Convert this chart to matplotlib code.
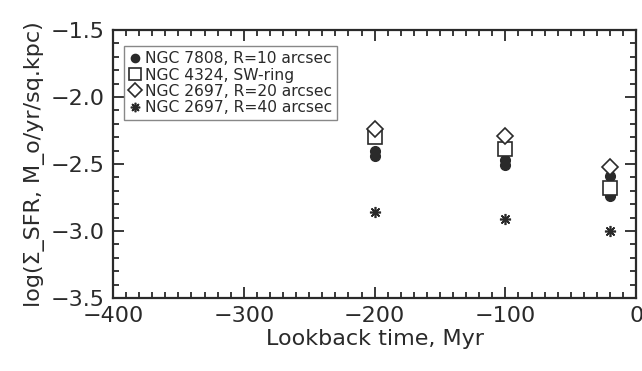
import numpy as np
import matplotlib
matplotlib.use("Agg")
import matplotlib.pyplot as plt
from matplotlib.ticker import MultipleLocator

# Lookback times (Myr) and log surface SFR for each sample
t_7808 = [-200, -200, -100, -100, -20, -20]
sfr_7808 = [-2.40, -2.44, -2.47, -2.51, -2.59, -2.74]

t_4324 = [-200, -100, -20]
sfr_4324 = [-2.30, -2.39, -2.68]

t_2697_r20 = [-200, -100, -20]
sfr_2697_r20 = [-2.24, -2.29, -2.52]

t_2697_r40 = [-200, -100, -20]
sfr_2697_r40 = [-2.86, -2.91, -3.00]

labels = ["NGC 7808, R=10 arcsec", "NGC 4324, SW-ring",
          "NGC 2697, R=20 arcsec", "NGC 2697, R=40 arcsec"]

ink = "#2a2a2a"
plt.rcParams["font.family"] = ["DejaVu Sans"]
plt.rcParams["axes.unicode_minus"] = True

fig = plt.figure(figsize=(6.42, 3.71), dpi=100)
ax = fig.add_axes([0.176, 0.197, 0.815, 0.722])

ax.plot(t_7808, sfr_7808, "o", ms=7, color=ink, mec=ink, label=labels[0])
ax.plot(t_4324, sfr_4324, "s", ms=10, mfc="white", mec=ink, mew=1.2, label=labels[1])
ax.plot(t_2697_r20, sfr_2697_r20, "D", ms=8, mfc="white", mec=ink, mew=1.2, label=labels[2])
ax.plot(t_2697_r40, sfr_2697_r40, ls="none", marker=(8, 2, 0), ms=8, color=ink, mew=1.2, label=labels[3])

ax.set_xlim(-400, 0)
ax.set_ylim(-3.5, -1.5)
ax.xaxis.set_major_locator(MultipleLocator(100))
ax.xaxis.set_minor_locator(MultipleLocator(10))
ax.yaxis.set_major_locator(MultipleLocator(0.5))
ax.yaxis.set_minor_locator(MultipleLocator(0.1))

ax.tick_params(which="both", direction="in", top=True, right=True, color=ink,
               labelcolor=ink, labelsize=16, width=1.3)
ax.tick_params(which="major", length=8, pad=6)
ax.tick_params(which="minor", length=4)
for s in ax.spines.values():
    s.set_linewidth(1.6)
    s.set_color(ink)

ax.set_xlabel("Lookback time, Myr", fontsize=16, color=ink, labelpad=2)
ax.set_ylabel("log(Σ_SFR, M_o/yr/sq.kpc)", fontsize=16, color=ink, labelpad=4)

leg = ax.legend(loc="upper left", bbox_to_anchor=(0.006, 0.97), fontsize=11.2,
                handlelength=0.7, handletextpad=0.3, borderpad=0.35,
                labelspacing=0.08, fancybox=False, framealpha=1, markerscale=0.85)
leg.get_frame().set_edgecolor("#888888")
leg.get_frame().set_linewidth(1.0)
for t in leg.get_texts():
    t.set_color(ink)

fig.savefig("out.png", dpi=100)
